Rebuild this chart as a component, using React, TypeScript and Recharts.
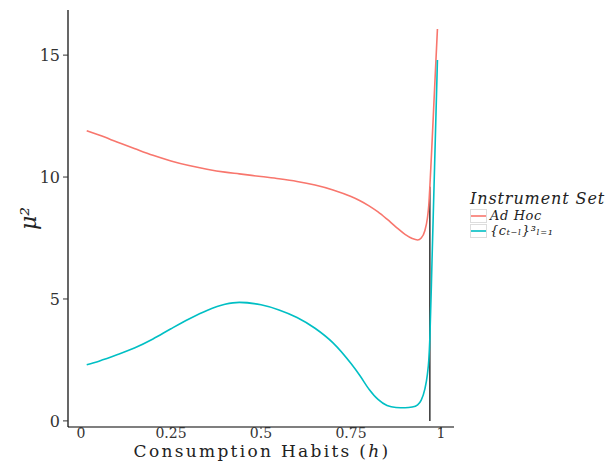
import React from 'react';
import { LineChart, Line, XAxis, YAxis, ReferenceLine } from 'recharts';

const H_BAR = 0.969;
const H_BAR_TOP = 9.6;

const habits = [
  0.016, 0.05, 0.1, 0.15, 0.2, 0.25, 0.3, 0.35, 0.4, 0.44, 0.5, 0.55, 0.6, 0.65, 0.7, 0.75,
  0.775, 0.8, 0.825, 0.85, 0.875, 0.9, 0.92, 0.935, 0.945, 0.955, 0.962, 0.966, 0.969, 0.975,
  0.982, 0.99,
];
const adHoc = [
  11.9, 11.72, 11.44, 11.16, 10.89, 10.66, 10.47, 10.32, 10.2, 10.13, 10.02, 9.93, 9.82, 9.67,
  9.47, 9.2, 9.03, 8.82, 8.57, 8.27, 7.95, 7.65, 7.48, 7.42, 7.5, 7.8, 8.3, 8.85, 9.6, 11.4,
  13.6, 16.07,
];
const lagged = [
  2.3, 2.45, 2.71, 3.0, 3.36, 3.78, 4.18, 4.53, 4.78, 4.86, 4.76, 4.55, 4.24, 3.8, 3.2, 2.35,
  1.85, 1.3, 0.88, 0.63, 0.55, 0.54, 0.57, 0.66, 0.85, 1.3, 1.9, 2.5, 3.4, 6.6, 10.4, 14.8,
];
const xTicks = [0, 0.25, 0.5, 0.75, H_BAR, 1];
const xTickLabels = ['0', '0.25', '0.5', '0.75', 'h', '1'];
const yTicks = [0, 5, 10, 15];

const RED = '#F8766D';
const CYAN = '#00BFC4';
const FONT = '"DejaVu Serif", serif';

const data = habits.map((h, i) => ({ h, adHoc: adHoc[i], lagged: lagged[i] }));

const legendItems = [
  { color: RED, label: 'Ad Hoc' },
  { color: CYAN, label: '{cₜ₋ₗ}³ₗ₌₁' },
];

const XTick = (props: any) => {
  const { x, y, payload } = props;
  const idx = xTicks.indexOf(payload.value);
  const isBar = payload.value === H_BAR;
  return (
    <text
      x={isBar ? x - 1 : x}
      y={y + 7}
      textAnchor="middle"
      fontFamily={FONT}
      fontSize={isBar ? 16 : 14}
      fontStyle={isBar ? 'italic' : 'normal'}
      fill={isBar ? '#e8302a' : '#333'}
    >
      {xTickLabels[idx]}
    </text>
  );
};

const XLabel = () => (
  <text x={262} y={457} textAnchor="middle" fontFamily={FONT} fontSize={17} letterSpacing={2.3} fill="#222">
    Consumption Habits (<tspan fontStyle="italic">h</tspan>)
  </text>
);

export default function App() {
  return (
    <div
      style={{
        position: 'absolute',
        left: 0,
        top: 0,
        width: 610,
        height: 461,
        background: '#fff',
        overflow: 'hidden',
      }}
    >
      <LineChart width={610} height={461} data={data} margin={{ top: 10, right: 156, left: 0, bottom: 0 }}>
        <XAxis
          dataKey="h"
          type="number"
          domain={[-0.036, 1.036]}
          ticks={xTicks}
          tick={<XTick />}
          tickLine={{ stroke: '#333' }}
          tickSize={2}
          axisLine={{ stroke: '#000', strokeWidth: 1.2 }}
          height={34}
          allowDataOverflow
          label={<XLabel />}
        />
        <YAxis
          type="number"
          domain={[-0.25, 16.85]}
          ticks={yTicks}
          width={68}
          tickSize={5}
          tickMargin={3}
          tickLine={{ stroke: '#333' }}
          axisLine={{ stroke: '#000', strokeWidth: 1.2 }}
          tick={{ fontFamily: FONT, fontSize: 16, fill: '#333' }}
          allowDataOverflow
          label={{
            value: 'μ²',
            angle: -90,
            position: 'insideLeft',
            offset: 28,
            style: { fontFamily: FONT, fontSize: 22, fontStyle: 'italic', fill: '#222', textAnchor: 'middle' },
          }}
        />
        <ReferenceLine
          segment={[
            { x: H_BAR, y: 0 },
            { x: H_BAR, y: H_BAR_TOP },
          ]}
          stroke="#000"
          strokeWidth={1.2}
        />
        <Line
          type="monotone"
          dataKey="adHoc"
          stroke={RED}
          strokeWidth={1.6}
          dot={false}
          isAnimationActive={false}
        />
        <Line
          type="monotone"
          dataKey="lagged"
          stroke={CYAN}
          strokeWidth={1.6}
          dot={false}
          isAnimationActive={false}
        />
      </LineChart>
      <div
        style={{
          position: 'absolute',
          left: 470,
          top: 189,
          fontFamily: FONT,
          color: '#222',
          whiteSpace: 'nowrap',
        }}
      >
        <div style={{ fontSize: 16, fontStyle: 'italic', letterSpacing: 0.9, lineHeight: '19px' }}>
          Instrument Set
        </div>
        {legendItems.map((item, i) => (
          <div key={i} style={{ display: 'flex', alignItems: 'center', height: 15 }}>
            <svg width={17} height={14} style={{ marginRight: 3, display: 'block' }}>
              <rect x={0.5} y={0.5} width={16} height={13} fill="#fff" stroke="#ddd" />
              <line x1={1} x2={16} y1={7} y2={7} stroke={item.color} strokeWidth={1.6} />
            </svg>
            <span style={{ fontSize: 13, fontStyle: 'italic', letterSpacing: 0.6, lineHeight: '15px' }}>
              {item.label}
            </span>
          </div>
        ))}
      </div>
    </div>
  );
}
